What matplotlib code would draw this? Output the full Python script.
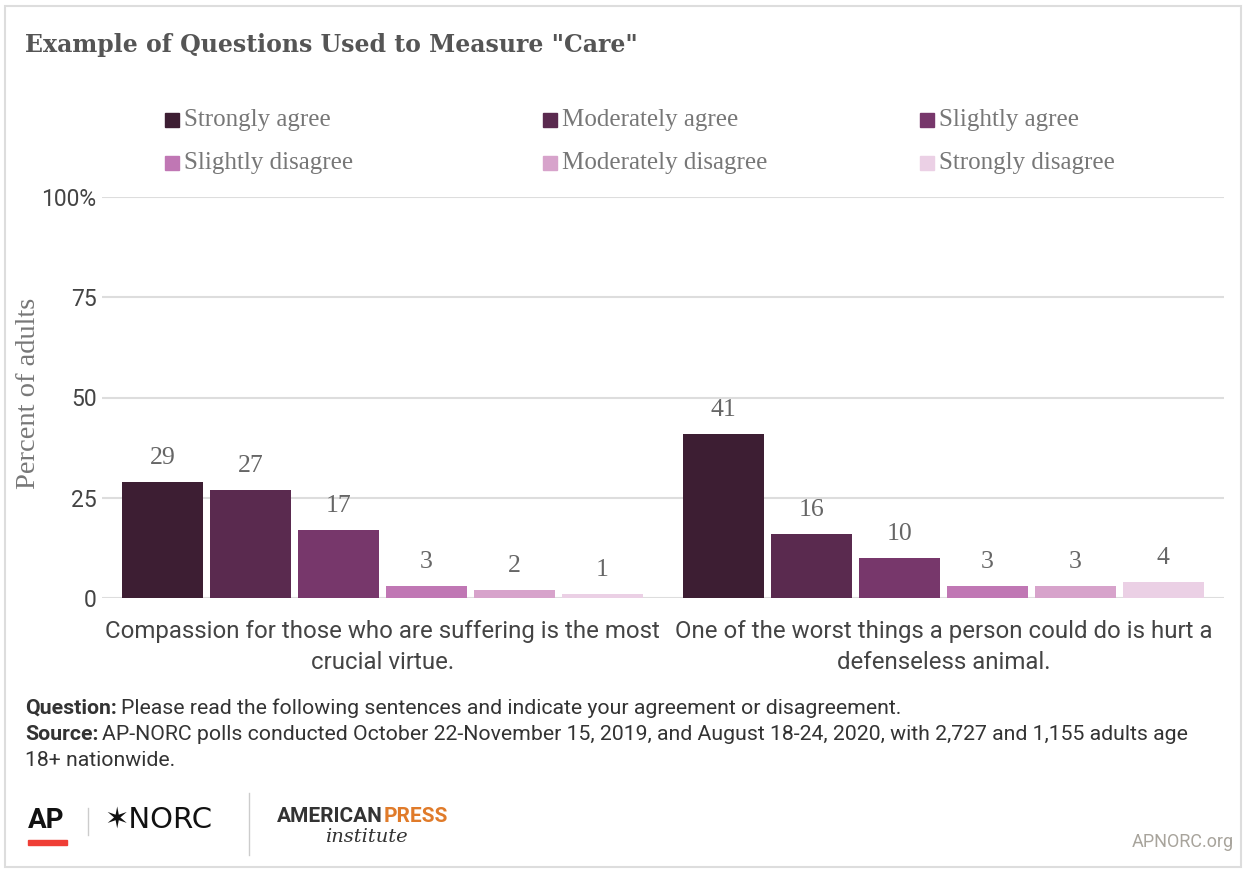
import matplotlib
matplotlib.use("Agg")
import matplotlib.pyplot as plt
from matplotlib.patches import Rectangle
import numpy as np

categories = ["Compassion for those who are suffering is the most\ncrucial virtue.",
              "One of the worst things a person could do is hurt a\ndefenseless animal."]
series_names = ["Strongly agree", "Moderately agree", "Slightly agree",
                "Slightly disagree", "Moderately disagree", "Strongly disagree"]
values = [
    [29, 41],
    [27, 16],
    [17, 10],
    [3, 3],
    [2, 3],
    [1, 4],
]
colors = ["#3d1e33", "#5a2a4f", "#77376b", "#c077b4", "#d7a3cb", "#ebd0e5"]
yticks = [0, 25, 50, 75, 100]
ytick_labels = ["0", "25", "50", "75", "100%"]

W, H = 1252, 871
fig = plt.figure(figsize=(W / 100, H / 100), dpi=100)
fig.patch.set_facecolor("white")
renderer = fig.canvas.get_renderer()

def fx(px):
    return px / W

def fy(py):
    return 1 - py / H

# border
fig.add_artist(Rectangle((fx(5), fy(867)), fx(1241) - fx(5), fy(6) - fy(867),
                         transform=fig.transFigure, fill=False,
                         edgecolor="#dddddd", linewidth=1.5))

ax = fig.add_axes([fx(102), fy(598), fx(1224) - fx(102), fy(197) - fy(598)])
x = np.arange(len(categories))
step = 0.1568
width = 0.1444
for i, (name, vals) in enumerate(zip(series_names, values)):
    offs = (i - 2.5) * step
    bars = ax.bar(x + offs, vals, width=width, color=colors[i], label=name, zorder=3)
    for b, v in zip(bars, vals):
        ax.text(b.get_x() + b.get_width() / 2, v + 3.2, str(v), ha="center", va="bottom",
                fontsize=18.5, color="#666666", family="Liberation Serif")

ax.set_xlim(-0.5, 1.5)
ax.set_ylim(0, 100)
ax.set_yticks(yticks)
ax.set_yticklabels(ytick_labels, fontsize=16.5, color="#444444", family="Roboto")
ax.yaxis.grid(True, color="#dddddd", linewidth=1.5, zorder=0)
ax.tick_params(axis="y", length=0, pad=4)
ax.set_xticks(x)
ax.set_xticklabels(categories, fontsize=17.3, color="#444444", family="Roboto", linespacing=1.45)
ax.tick_params(axis="x", length=0, pad=16)
for s in ax.spines.values():
    s.set_visible(False)
ax.set_ylabel("Percent of adults", fontsize=20.5, color="#777777", family="Liberation Serif")
ax.yaxis.set_label_coords(-0.054, 0.51)
ax.yaxis.label.set_va("bottom")

# title
fig.text(fx(25), fy(45), 'Example of Questions Used to Measure "Care"', fontsize=17,
         fontweight="bold", color="#555555", family="DejaVu Serif", va="center")

# legend
leg_x = [165, 543, 920]
leg_y = [120, 163]
for i, name in enumerate(series_names):
    col = i % 3
    row = i // 3
    px, py = leg_x[col], leg_y[row]
    fig.add_artist(Rectangle((fx(px), fy(py + 7)), fx(14), 14 / H,
                             transform=fig.transFigure, color=colors[i]))
    fig.text(fx(px + 19), fy(py), name, fontsize=18, color="#777777",
             family="Liberation Serif", va="center")

# notes
def label_and_text(px, py, bold, rest, size=15.3):
    t = fig.text(fx(px), fy(py), bold, fontsize=size, fontweight="bold", color="#333333",
                 family="Roboto", va="center")
    bb = t.get_window_extent(renderer)
    fig.text((bb.x1 + 4) / W, fy(py), rest, fontsize=size, color="#333333",
             family="Roboto", va="center")

label_and_text(25, 708, "Question:", "Please read the following sentences and indicate your agreement or disagreement.")
label_and_text(25, 734, "Source:", "AP-NORC polls conducted October 22-November 15, 2019, and August 18-24, 2020, with 2,727 and 1,155 adults age")
fig.text(fx(25), fy(760), "18+ nationwide.", fontsize=15.3, color="#333333", family="Roboto", va="center")

# logos
fig.text(fx(28), fy(820), "AP", fontsize=20, fontweight="bold", color="#111111",
         family="Roboto", va="center")
fig.add_artist(Rectangle((fx(28), fy(845)), fx(39), 5 / H, transform=fig.transFigure, color="#ef3e36"))
fig.add_artist(plt.Line2D([fx(88), fx(88)], [fy(835), fy(808)], transform=fig.transFigure,
                          color="#cccccc", linewidth=1))
fig.text(fx(104), fy(820), "\u2736NORC", fontsize=21, color="#111111", family="DejaVu Sans", va="center")
fig.add_artist(plt.Line2D([fx(249), fx(249)], [fy(855), fy(793)], transform=fig.transFigure,
                          color="#cccccc", linewidth=1))
t = fig.text(fx(277), fy(816), "AMERICAN", fontsize=15, color="#333333", family="Roboto",
             va="center", fontweight="bold")
bb = t.get_window_extent(renderer)
fig.text((bb.x1 + 1) / W, fy(816), "PRESS", fontsize=15, color="#e07b2a", family="Roboto",
         va="center", fontweight="bold")
fig.text(fx(366), fy(837), "institute", fontsize=14, color="#333333", family="DejaVu Serif",
         style="italic", ha="center", va="center")
fig.text(fx(1234), fy(842), "APNORC.org", fontsize=13, color="#a8a49c", family="Roboto",
         ha="right", va="center")

fig.savefig("out.png", dpi=100)
